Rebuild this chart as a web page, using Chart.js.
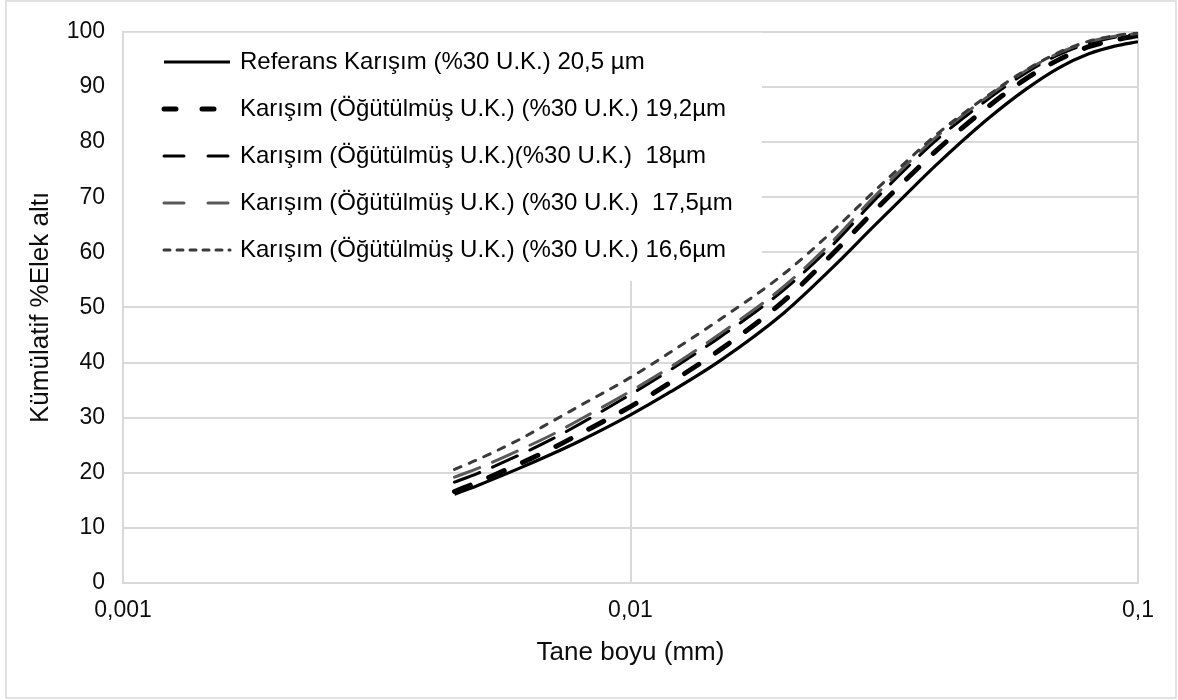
<!DOCTYPE html>
<html>
<head>
<meta charset="utf-8">
<script src="https://cdn.jsdelivr.net/npm/chart.js@4.4.1/dist/chart.umd.min.js"></script>
<style>
  html, body { margin: 0; padding: 0; background: #fff; }
  #wrap { position: relative; width: 1178px; height: 700px; }
</style>
</head>
<body>
<div id="wrap"><canvas id="psd" width="1178" height="700"></canvas></div>
<script>
// particle size (mm) and cumulative passing (%)
const sizes = [0.0045, 0.005, 0.006, 0.007, 0.008, 0.01, 0.012, 0.015, 0.02, 0.025, 0.03, 0.035, 0.04, 0.05, 0.06, 0.07, 0.08, 0.09, 0.1];
const ref205 = [16.1, 17.7, 20.7, 23.4, 25.9, 30.5, 34.7, 40.3, 48.9, 57.2, 64.5, 70.6, 75.8, 83.8, 89.5, 93.5, 96.0, 97.4, 98.2];
const mix192 = [16.6, 18.3, 21.5, 24.4, 27.2, 32.0, 36.4, 42.3, 51.1, 59.7, 67.2, 73.3, 78.4, 86.0, 91.4, 95.0, 97.3, 98.5, 99.3];
const mix18  = [18.3, 19.9, 23.1, 26.1, 29.0, 34.2, 38.7, 44.6, 53.1, 61.3, 69.1, 75.3, 80.3, 87.4, 92.5, 95.9, 97.9, 99.0, 99.6];
const mix175 = [19.2, 20.8, 24.0, 26.9, 29.8, 34.8, 39.2, 45.2, 53.7, 62.0, 69.8, 75.9, 80.9, 87.9, 92.9, 96.2, 98.2, 99.2, 99.7];
const mix166 = [20.6, 22.4, 25.9, 29.3, 32.3, 37.3, 41.9, 47.8, 56.0, 63.8, 70.8, 76.5, 81.3, 88.1, 93.0, 96.3, 98.3, 99.3, 99.8];

const labels = [
  'Referans Karışım (%30 U.K.) 20,5 µm',
  'Karışım (Öğütülmüş U.K.) (%30 U.K.) 19,2µm',
  'Karışım (Öğütülmüş U.K.)(%30 U.K.)  18µm',
  'Karışım (Öğütülmüş U.K.) (%30 U.K.)  17,5µm',
  'Karışım (Öğütülmüş U.K.) (%30 U.K.) 16,6µm'
];
const xTicks = [0.001, 0.01, 0.1];
const xTickLabels = ['0,001', '0,01', '0,1'];

const FONT = '"Liberation Sans", Arial, sans-serif';
const GRID = '#d9d9d9';
const pts = (ys) => sizes.map((x, i) => ({ x, y: ys[i] }));

function series(label, ys, color, width, dash, legendDash, order) {
  return {
    label, data: pts(ys),
    borderColor: color, borderWidth: width,
    borderDash: dash, borderCapStyle: dash.length ? 'round' : 'butt',
    legendDash,
    pointRadius: 0, cubicInterpolationMode: 'monotone', fill: false, order
  };
}

// legend drawn inside the plot, on a white box over the grid
const insideLegend = {
  id: 'insideLegend',
  afterDatasetsDraw(chart) {
    const { ctx, chartArea } = chart;
    ctx.save();
    ctx.fillStyle = '#fff';
    ctx.fillRect(chartArea.left + 1, chartArea.top + 1, 638, 248);
    chart.data.datasets.forEach((ds, i) => {
      const y = 62 + i * 47;
      ctx.strokeStyle = ds.borderColor;
      ctx.lineWidth = ds.borderWidth;
      ctx.lineCap = ds.borderCapStyle;
      ctx.setLineDash(ds.legendDash);
      ctx.beginPath();
      ctx.moveTo(164, y);
      ctx.lineTo(230, y);
      ctx.stroke();
      ctx.setLineDash([]);
      ctx.fillStyle = '#000';
      ctx.font = '24px ' + FONT;
      ctx.textBaseline = 'middle';
      ctx.fillText(ds.label, 240, y);
    });
    ctx.restore();
  },
  beforeDraw(chart) {
    const ctx = chart.ctx;
    ctx.save();
    ctx.strokeStyle = GRID;
    ctx.lineWidth = 1.5;
    ctx.strokeRect(6, 1, 1170, 697);
    ctx.restore();
  }
};

new Chart(document.getElementById('psd'), {
  type: 'line',
  data: {
    datasets: [
      series(labels[0], ref205, '#000000', 3.2, [], [], 5),
      series(labels[1], mix192, '#000000', 5, [17, 20], [12, 26], 4),
      series(labels[2], mix18, '#000000', 3, [27, 14], [20, 24], 3),
      series(labels[3], mix175, '#595959', 3, [27, 14], [20, 24], 2),
      series(labels[4], mix166, '#3a3a3a', 3, [7, 9], [6, 7], 1)
    ]
  },
  options: {
    responsive: false,
    animation: false,
    devicePixelRatio: 1,
    layout: { padding: { left: 0, top: 22, right: 40, bottom: 0 } },
    plugins: { legend: { display: false }, tooltip: { enabled: false } },
    scales: {
      x: {
        type: 'logarithmic', min: 0.001, max: 0.1,
        afterBuildTicks: (scale) => { scale.ticks = xTicks.map(v => ({ value: v })); },
        afterFit: (scale) => { scale.height = 117; },
        ticks: {
          autoSkip: false, maxRotation: 0, padding: 14, color: '#0d0d0d',
          font: { family: FONT, size: 23 },
          callback: (v, i) => xTickLabels[i]
        },
        grid: { color: GRID, lineWidth: 2, drawTicks: false },
        border: { color: GRID, width: 2 },
        title: {
          display: true, text: 'Tane boyu (mm)', color: '#0d0d0d',
          font: { family: FONT, size: 26 }, padding: { top: 0, bottom: 32 }
        }
      },
      y: {
        min: 0, max: 100,
        afterFit: (scale) => { scale.width = 123; },
        ticks: { stepSize: 10, padding: 18, color: '#0d0d0d', font: { family: FONT, size: 23 } },
        grid: { color: GRID, lineWidth: 2, drawTicks: false },
        border: { color: GRID, width: 2 },
        title: {
          display: true, text: 'Kümülatif %Elek altı', color: '#0d0d0d',
          font: { family: FONT, size: 26 }, padding: { top: 25, bottom: 0 }
        }
      }
    }
  },
  plugins: [insideLegend]
});
</script>
</body>
</html>
